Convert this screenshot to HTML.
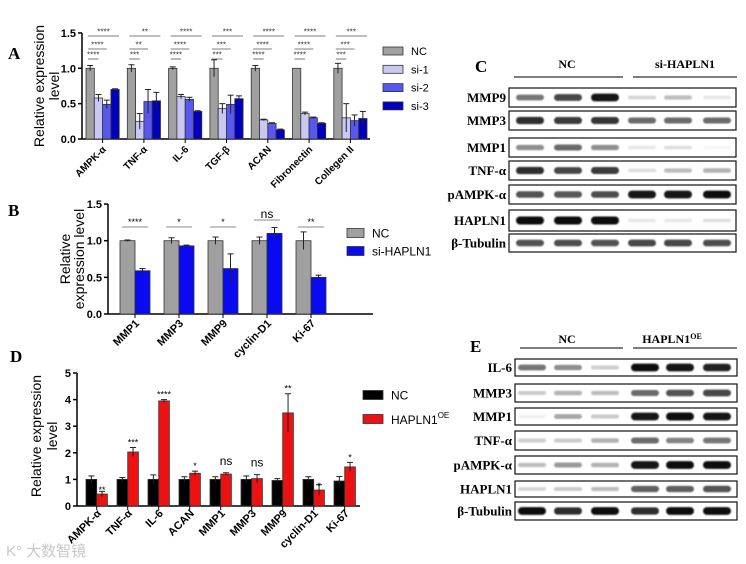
<!DOCTYPE html>
<html><head><meta charset="utf-8">
<style>
body{margin:0;background:#fff;}
svg{display:block;font-family:"Liberation Sans",Arial,sans-serif;}
.ser{font-family:"Liberation Serif",serif;font-weight:bold;}
</style></head>
<body>
<svg id="fig" width="746" height="564" viewBox="0 0 746 564" xmlns="http://www.w3.org/2000/svg">
<rect width="746" height="564" fill="#fff"/>
<g id="pa"></g>
<g id="pb"></g>
<g id="pd"></g>
<g id="pc"></g>
<g id="pe"></g>
<text x="6" y="556" font-size="15" fill="#c8c8c8" font-family="'Liberation Sans','Noto Sans CJK SC',sans-serif">K° 大数智镜</text>
</svg>
<script>
// ---------- Panel A data ----------
const aCats = ["AMPK-α","TNF-α","IL-6","TGF-β","ACAN","Fibronectin","Collegen II"];
const aSeries = ["NC","si-1","si-2","si-3"];
const aNC = [1,1,1,1,1,1,1];
const aNCerr = [0.04,0.05,0.02,0.12,0.04,0,0.07];
const aS1 = [0.58,0.25,0.60,0.43,0.27,0.36,0.30];
const aS1err = [0.05,0.11,0.03,0.07,0.01,0.02,0.20];
const aS2 = [0.49,0.53,0.56,0.49,0.22,0.30,0.26];
const aS2err = [0.06,0.17,0.03,0.13,0.01,0.01,0.08];
const aS3 = [0.70,0.54,0.39,0.57,0.13,0.22,0.29];
const aS3err = [0.01,0.12,0.01,0.04,0.01,0.01,0.10];
const aSig1 = ["****","**","****","***","****","****","***"];
const aSig2 = ["****","**","****","***","****","****","***"];
const aSig3 = ["****","***","****","***","****","****","***"];
const aTicks = [0,0.5,1.0,1.5];
// ---------- Panel B data ----------
const bCats = ["MMP1","MMP3","MMP9","cyclin-D1","Ki-67"];
const bNC = [1,1,1,1,1];
const bNCerr = [0.01,0.04,0.05,0.05,0.12];
const bSi = [0.59,0.93,0.62,1.10,0.50];
const bSierr = [0.03,0.01,0.20,0.08,0.03];
const bSig = ["****","*","*","ns","**"];
const bTicks = [0,0.5,1.0,1.5];
// ---------- Panel D data ----------
const dCats = ["AMPK-α","TNF-α","IL-6","ACAN","MMP1","MMP3","MMP9","cyclin-D1","Ki-67"];
const dNC = [1,1,1,1,1,1,0.96,1,0.94];
const dNCerr = [0.13,0.07,0.17,0.1,0.1,0.13,0.07,0.1,0.17];
const dOE = [0.45,2.03,3.95,1.23,1.2,1.03,3.5,0.6,1.47];
const dOEerr = [0.1,0.17,0.05,0.08,0.05,0.15,0.72,0.2,0.17];
const dSig = ["**","***","****","*","ns","ns","**","*","*"];
const dTicks = [0,1,2,3,4,5];
// ---------- Blot data (band intensity 0-1) ----------
const cRows = ["MMP9","MMP3","MMP1","TNF-α","pAMPK-α","HAPLN1","β-Tubulin"];
const cInt = [[0.55,0.75,0.95,0.15,0.25,0.08],[0.85,0.8,0.82,0.6,0.6,0.6],[0.45,0.6,0.45,0.08,0.12,0.02],[0.85,0.75,0.8,0.12,0.25,0.3],[0.7,0.68,0.72,0.95,0.95,0.97],[1,1,1,0.08,0.08,0.12],[0.7,0.72,0.7,0.75,0.75,0.72]];
const eRows = ["IL-6","MMP3","MMP1","TNF-α","pAMPK-α","HAPLN1","β-Tubulin"];
const eInt = [[0.55,0.45,0.18,0.97,0.95,0.9],[0.2,0.3,0.25,0.6,0.7,0.75],[0.05,0.35,0.2,0.95,0.98,0.95],[0.18,0.2,0.3,0.6,0.5,0.55],[0.25,0.4,0.3,0.95,0.97,0.97],[0.15,0.2,0.25,0.65,0.65,0.7],[0.97,0.85,0.97,0.85,0.97,0.97]];

const NS="http://www.w3.org/2000/svg";
function mk(parent,tag,attrs,text){const e=document.createElementNS(NS,tag);for(const k in attrs)e.setAttribute(k,attrs[k]);if(text!==undefined)e.textContent=text;parent.appendChild(e);return e;}

function axes(g,x0,x1,yOf,ticks,fmt){
  const y0=yOf(ticks[0]);
  const ax=mk(g,'line',{x1:x0,y1:y0,x2:x1,y2:y0,stroke:'#000','stroke-width':1.5});
  
  
  const ay=mk(g,'line',{x1:x0,y1:y0,x2:x0,y2:yOf(ticks[ticks.length-1]),stroke:'#000','stroke-width':1.5});
  
  
  ticks.forEach(t=>{const y=yOf(t);
    mk(g,'line',{x1:x0-4,y1:y,x2:x0,y2:y,stroke:'#000','stroke-width':1.5});
    const tl=mk(g,'text',{x:x0-6,y:y+4,'font-size':11,'font-weight':'bold','text-anchor':'end'},fmt(t));
    
    
  });
}
function ytitle(g,x,yc,lines,gap){
  const t=mk(g,'text',{transform:`translate(${x},${yc}) rotate(-90)`,'font-size':14,'text-anchor':'middle'});
  
  
  lines.forEach((l,i)=>{mk(t,'tspan',{x:0,dy:i?gap:0},l);});
}
function bar(g,x,w,yOf,v,err,fill,name){
  const r=mk(g,'rect',{x:x,y:yOf(v),width:w,height:yOf(0)-yOf(v),fill:fill,stroke:'#333','stroke-width':0.8});
  
  
  if(err>0){const cx=x+w/2,yt=yOf(v+err),yb=yOf(v-err);
    mk(g,'line',{x1:cx,y1:yt,x2:cx,y2:yb,stroke:'#222','stroke-width':1});
    mk(g,'line',{x1:cx-3,y1:yt,x2:cx+3,y2:yt,stroke:'#222','stroke-width':1});}
}
function xlabel(g,x,y,txt,fs){
  const t=mk(g,'text',{transform:`translate(${x},${y}) rotate(-45)`,'font-size':fs,'font-weight':'bold','text-anchor':'end'},txt);
  
  
}
function legend(g,x,y,fill,txt,fs,w,h){
  const r=mk(g,'rect',{x:x,y:y-h/2,width:w,height:h,fill:fill,stroke:'#333','stroke-width':0.8});
  
  
  const t=mk(g,'text',{x:x+w+8,y:y+fs*0.36,'font-size':fs},txt);
  
  
}

// ---------- Panel A ----------
(function(){
  const g=document.getElementById('pa');
  const yOf=v=>139-v*70.7;
  mk(g,'text',{x:8,y:59,'font-size':17,class:'ser'},'A');
  axes(g,82,370,yOf,aTicks,t=>t.toFixed(1));
  ytitle(g,44,86,["Relative expression","level"],15);
  const cols=['#a0a0a0','#c8c8f2','#5858ee','#0000bb'];
  const vals=[aNC,aS1,aS2,aS3],errs=[aNCerr,aS1err,aS2err,aS3err];
  aCats.forEach((c,i)=>{
    const gx=86+i*41.3,w=8.3;
    vals.forEach((s,j)=>bar(g,gx+j*w,w,yOf,s[i],errs[j][i],cols[j],'bar-a-'+aSeries[j]));
    mk(g,'line',{x1:gx+2*w,y1:139,x2:gx+2*w,y2:143,stroke:'#000'});
    xlabel(g,gx+2*w+4,150,c,10);
    [[aSig1,36,3],[aSig2,49,2],[aSig3,59,1]].forEach(([arr,y,k])=>{
      const xe=gx+k*w+w/2+ (k==3?4:0);
      mk(g,'line',{x1:gx+2,y1:y,x2:xe,y2:y,stroke:'#555','stroke-width':0.8});
      mk(g,'text',{x:(gx+2+xe)/2,y:y-1.5,'font-size':8,'text-anchor':'middle',fill:'#333'},arr[i]);
    });
  });
  aSeries.forEach((s,j)=>legend(g,383,51+j*18.3,cols[j],s,11,20,8));
})();

// ---------- Panel B ----------
(function(){
  const g=document.getElementById('pb');
  const yOf=v=>314-v*73.3;
  mk(g,'text',{x:8,y:216,'font-size':17,class:'ser'},'B');
  axes(g,108,373,yOf,bTicks,t=>t.toFixed(1));
  ytitle(g,70,259,["Relative","expression  level"],14);
  bCats.forEach((c,i)=>{
    const gx=120+i*44,w=15;
    bar(g,gx,w,yOf,bNC[i],bNCerr[i],'#a0a0a0','bar-b-nc');
    bar(g,gx+w,w,yOf,bSi[i],bSierr[i],'#0a0af0','bar-b-si');
    mk(g,'line',{x1:gx+w,y1:314,x2:gx+w,y2:318,stroke:'#000'});
    xlabel(g,gx+w+5,324,c,11);
    const ys=i==3?220:227;
    mk(g,'line',{x1:gx+2,y1:ys,x2:gx+2*w-2,y2:ys,stroke:'#666','stroke-width':0.8});
    mk(g,'text',{x:gx+w,y:ys-2,'font-size':i==3?12:9,'text-anchor':'middle'},bSig[i]);
  });
  legend(g,347,233,'#a0a0a0','NC',12,17,9);
  legend(g,347,251,'#0a0af0','si-HAPLN1',12,17,9);
})();

// ---------- Panel D ----------
(function(){
  const g=document.getElementById('pd');
  const yOf=v=>506-v*26.6;
  mk(g,'text',{x:10,y:362,'font-size':17,class:'ser'},'D');
  axes(g,77,360,yOf,dTicks,t=>String(t));
  ytitle(g,41,436,["Relative expression","level"],16);
  dCats.forEach((c,i)=>{
    const gx=86+i*31,w=10.7;
    bar(g,gx,w,yOf,dNC[i],dNCerr[i],'#000','bar-d-nc');
    bar(g,gx+w,w,yOf,dOE[i],dOEerr[i],'#ee1111','bar-d-oe');
    mk(g,'line',{x1:gx+w,y1:506,x2:gx+w,y2:510,stroke:'#000'});
    xlabel(g,gx+w+5,514,c,11);
    const ns=dSig[i]=='ns';
    const top=yOf(dOE[i]+dOEerr[i]);
    const yy=ns?top-8:(i==0||i==7?yOf(dOE[i])-1:top-2);
    mk(g,'text',{x:gx+1.5*w,y:yy,'font-size':ns?12:9,'text-anchor':'middle'},dSig[i]);
  });
  legend(g,363,395,'#000','NC',12,20,9);
  const t=mk(g,'text',{x:391,y:424,'font-size':12},'HAPLN1');
  mk(t,'tspan',{'font-size':8,dy:-6},'OE');
  mk(g,'rect',{x:363,y:414.5,width:20,height:9,fill:'#ee1111',stroke:'#333','stroke-width':0.8});
})();

// ---------- Blots ----------
function blot(gid,letter,lx,ly,groups,gy,boxX0,boxX1,rows,rowY,rowH,lanes,ints,lineY){
  const g=document.getElementById(gid);
  mk(g,'text',{x:lx,y:ly,'font-size':17,class:'ser'},letter);
  groups.forEach(([txt,x,x0,x1,sup])=>{
    const t=mk(g,'text',{x:x,y:gy,'font-size':12,class:'ser','text-anchor':'middle'},txt);
    if(sup)mk(t,'tspan',{'font-size':8,dy:-4},sup);
    mk(g,'line',{x1:x0,y1:lineY,x2:x1,y2:lineY,stroke:'#333','stroke-width':1.2});
  });
  rows.forEach((r,i)=>{
    const y=rowY[i],h=rowH[i];
    const t=mk(g,'text',{x:boxX0-3,y:y+h/2+4.5,'font-size':13,class:'ser','text-anchor':'end'},r);
    
    
    const b=mk(g,'rect',{x:boxX0,y:y,width:boxX1-boxX0,height:h,fill:'#fff',stroke:'#111','stroke-width':1.2});
    
    
    lanes.forEach((cx,j)=>{
      const v=ints[i][j],c=Math.round(250-v*240);
      const bh=3+v*5;
      const band=mk(g,'rect',{x:cx-14,y:y+h/2-bh/2,width:28,height:bh,rx:bh/2,fill:`rgb(${c},${c},${c})`,filter:'url(#blur)'});
      
      
    });
  });
}
const defs=mk(document.getElementById('fig'),'defs',{});
const f=mk(defs,'filter',{id:'blur',x:'-20%',y:'-50%',width:'140%',height:'200%'});
mk(f,'feGaussianBlur',{stdDeviation:0.8});
blot('pc','C',475,72,[["NC",567,514,623],["si-HAPLN1",685,633,737]],68,509,736,cRows,
  [88,111,138,161,185,210,234],[19,19,19,19,19,21,18],[530,568,605,642,678,717],cInt,77);
blot('pe','E',470,352,[["NC",567,520,623],["HAPLN1",672,633,737,"OE"]],343,515,737,eRows,
  [359,384,408,431,456,481,502],[17,18,17,19,18,16,18],[532,568,605,645,680,717],eInt,348);
</script>
</body></html>
